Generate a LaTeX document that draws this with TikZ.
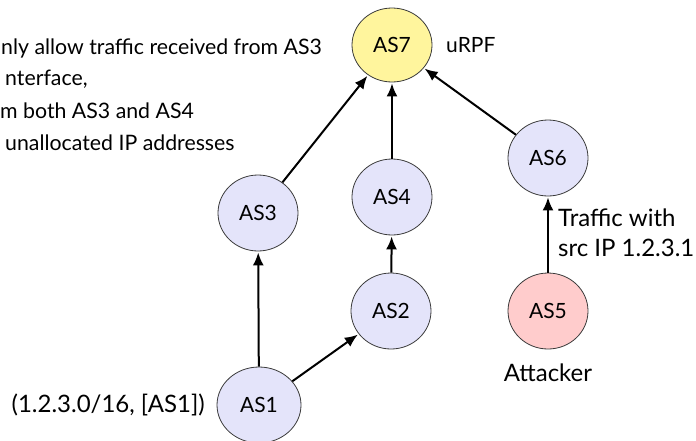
\documentclass[tikz,border=0pt]{standalone}
\usepackage{fontspec}
\setmainfont{Lato}
\usetikzlibrary{shapes.geometric,arrows.meta}
\definecolor{asblue}{HTML}{E4E4FA}
\definecolor{asyellow}{HTML}{FFF59D}
\definecolor{aspink}{HTML}{FFCCCC}
\definecolor{asborder}{HTML}{3A3A3A}
\tikzset{
  asnode/.style={ellipse, draw=asborder, line width=0.8pt, fill=asblue, minimum width=80pt, minimum height=76pt, inner sep=0pt, font=\fontsize{21}{24}\selectfont},
  lbl/.style={inner sep=0pt, font=\fontsize{24}{28}\selectfont},
  note/.style={inner sep=0pt, anchor=base west, font=\fontsize{21.3}{26}\selectfont},
  conn/.style={-{Latex[length=13pt,width=11pt]}, line width=2pt, shorten >=1pt}
}
\begin{document}
\begin{tikzpicture}[x=1pt,y=-1pt]
\useasboundingbox (0,0) rectangle (696,440);
\node[asnode, fill=asyellow, minimum height=74pt] (as7) at (392,45) {AS7};
\node[asnode] (as3) at (258,213) {AS3};
\node[asnode] (as4) at (392,197) {AS4};
\node[asnode] (as6) at (548,158) {AS6};
\node[asnode] (as2) at (391,311) {AS2};
\node[asnode, fill=aspink] (as5) at (548,311) {AS5};
\node[asnode, minimum width=84pt] (as1) at (259,405) {AS1};
\draw[conn] (as3) -- (as7);
\draw[conn] (as4) -- (as7);
\draw[conn] (as6) -- (as7);
\draw[conn] (as1) -- (as3);
\draw[conn] (as1) -- (as2);
\draw[conn] (as2) -- (as4);
\draw[conn] (as5) -- (as6);
\node[note] (t1) at (1,54) {nly allow traffic received from AS3};
\node[note] (t2) at (5,85) {nterface,};
\node[note] (t3) at (0,118) {m both AS3 and AS4};
\node[note] (t4) at (5,150) {unallocated IP addresses};
\node[lbl, anchor=west, font=\fontsize{21}{24}\selectfont] (urpf) at (446,45) {uRPF};
\node[lbl, anchor=base west] (tr1) at (558,226) {Traffic with};
\node[lbl, anchor=base west] (tr2) at (558,256) {src IP 1.2.3.1};
\node[lbl] (att) at (548,373) {Attacker};
\node[lbl, anchor=east] (pfx) at (205,405) {(1.2.3.0/16, [AS1])};
\end{tikzpicture}
\end{document}
